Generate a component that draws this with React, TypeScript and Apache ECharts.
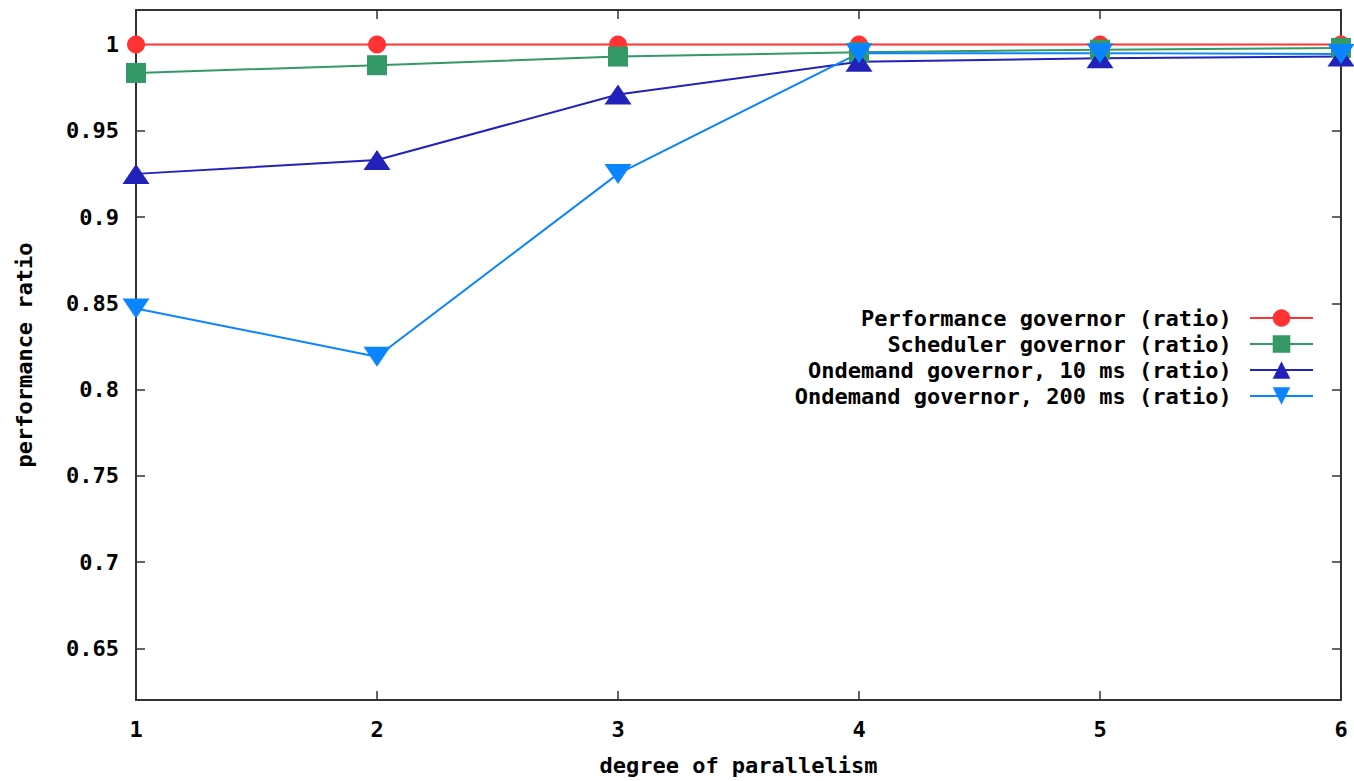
import React, { useEffect, useRef } from "react";
import * as echarts from "echarts";

const parallelism = [1, 2, 3, 4, 5, 6];
const performanceRatio = [1, 1, 1, 1, 1, 1];
const schedulerRatio = [0.9835, 0.988, 0.993, 0.9955, 0.997, 0.998];
const ondemand10Ratio = [0.925, 0.933, 0.971, 0.99, 0.992, 0.993];
const ondemand200Ratio = [0.847, 0.819, 0.925, 0.995, 0.995, 0.9945];
const yTicks = [0.65, 0.7, 0.75, 0.8, 0.85, 0.9, 0.95, 1];
const seriesNames = [
  "Performance governor (ratio)",
  "Scheduler governor (ratio)",
  "Ondemand governor, 10 ms (ratio)",
  "Ondemand governor, 200 ms (ratio)",
];

const FONT = "DejaVu Sans Mono";

export default function App() {
  const ref = useRef<HTMLDivElement>(null);
  useEffect(() => {
    if (!ref.current) return;
    const chart = echarts.init(ref.current, undefined, { renderer: "svg" });
    const pair = (vals: number[]) => parallelism.map((x, i) => [x, vals[i]]);
    const axisLine = { show: true, lineStyle: { color: "#333", width: 2 } };
    const tick = { show: true, inside: true, length: 9, lineStyle: { color: "#333", width: 1.5 } };
    const labelStyle = { fontFamily: FONT, fontWeight: "bold" as const, fontSize: 22, color: "#000" };
    const mk = (name: string, vals: number[], color: string, symbol: string, size: any, rotate = 0) => ({
      name,
      type: "line",
      data: pair(vals),
      symbol,
      symbolSize: size,
      symbolRotate: rotate,
      showAllSymbol: true,
      lineStyle: { color, width: 2 },
      itemStyle: { color },
      xAxisIndex: 0,
      yAxisIndex: 0,
    });
    chart.setOption({
      animation: false,
      backgroundColor: "#fff",
      grid: { left: 136, right: 13, top: 10, bottom: 80, containLabel: false },
      legend: {
        orient: "vertical",
        align: "right",
        right: 35,
        top: 302,
        itemWidth: 63,
        itemHeight: 22,
        itemGap: 4,
        formatter: (n: string) => n + " ",
        textStyle: { ...labelStyle, lineHeight: 22 },
        data: seriesNames,
      },
      xAxis: [
        {
          type: "value",
          min: 1,
          max: 6,
          interval: 1,
          position: "bottom",
          name: "degree of parallelism",
          nameLocation: "middle",
          nameGap: 54,
          nameTextStyle: labelStyle,
          axisLine,
          axisTick: tick,
          splitLine: { show: false },
          axisLabel: { ...labelStyle, margin: 18 },
        },
        {
          type: "value",
          min: 1,
          max: 6,
          interval: 1,
          position: "top",
          axisLine,
          axisTick: tick,
          splitLine: { show: false },
          axisLabel: { show: false },
        },
      ],
      yAxis: [
        {
          type: "value",
          min: 0.62,
          max: 1.02,
          position: "left",
          name: "performance ratio",
          nameLocation: "middle",
          nameGap: 101,
          nameTextStyle: labelStyle,
          axisLine,
          axisTick: { ...tick, customValues: yTicks },
          splitLine: { show: false },
          axisLabel: { ...labelStyle, margin: 17, customValues: yTicks },
        },
        {
          type: "value",
          min: 0.62,
          max: 1.02,
          position: "right",
          axisLine,
          axisTick: { ...tick, customValues: yTicks },
          splitLine: { show: false },
          axisLabel: { show: false, customValues: yTicks },
        },
      ],
      series: [
        mk(seriesNames[0], performanceRatio, "#ff3333", "circle", 18),
        mk(seriesNames[1], schedulerRatio, "#339966", "rect", 20),
        mk(seriesNames[2], ondemand10Ratio, "#2222bb", "triangle", [27, 20]),
        mk(seriesNames[3], ondemand200Ratio, "#0a84ff", "triangle", [27, 20], 180),
      ],
    });
    return () => chart.dispose();
  }, []);
  return <div ref={ref} style={{ position: "fixed", left: 0, top: 0, width: 1354, height: 781 }} />;
}
